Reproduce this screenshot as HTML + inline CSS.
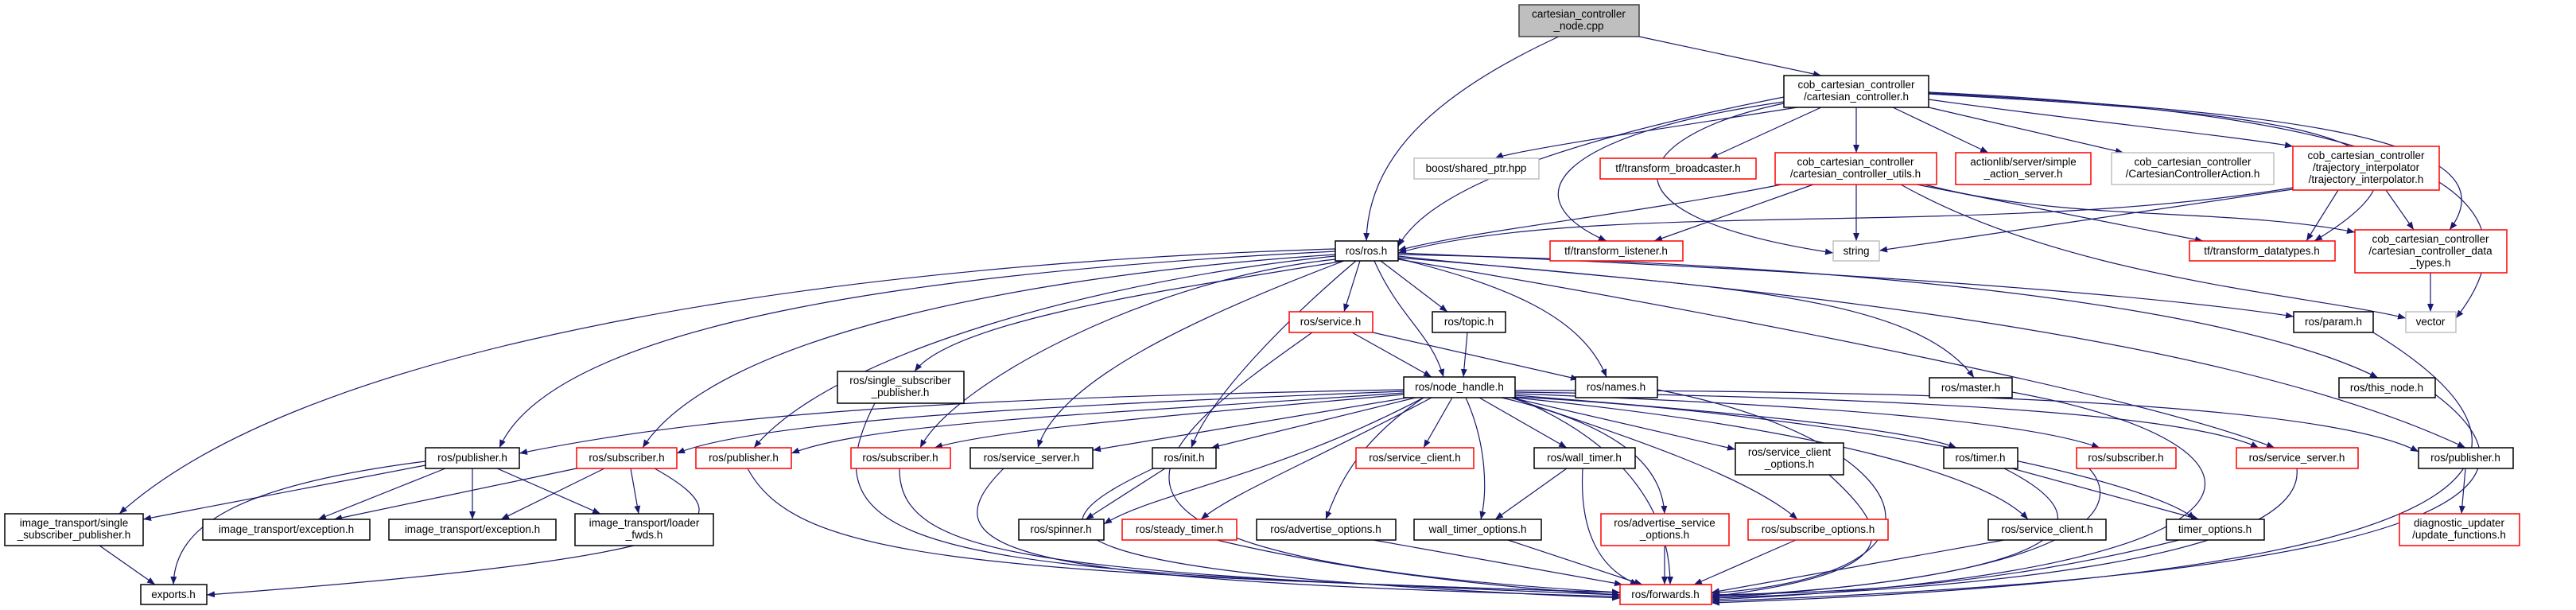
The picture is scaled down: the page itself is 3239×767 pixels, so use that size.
<!DOCTYPE html>
<html><head><meta charset="utf-8"><style>
html,body{margin:0;padding:0;background:#fff;}
svg{display:block;}
text{font-family:"Liberation Sans",sans-serif;font-size:13.5px;fill:#000;text-anchor:middle;}
.e path{fill:none;stroke:#191970;stroke-width:1.2;}
.n rect{fill:#fff;stroke:#000;stroke-width:1.5;}
.n rect.r{stroke:#f00;}
.n rect.g{stroke:#bfbfbf;}
</style></head><body>
<svg width="3239" height="767" viewBox="0 0 3239 767" xmlns="http://www.w3.org/2000/svg">
<defs><marker id="a" viewBox="0 0 10 10" refX="10" refY="5" markerWidth="10" markerHeight="10" markerUnits="userSpaceOnUse" orient="auto"><path d="M0,1 L10,5 L0,9 z" fill="#191970"/></marker></defs>
<g class="e" marker-end="url(#a)">
<path marker-end="url(#a)" d="M1960,46 C1800,120 1720,200 1718,303"/>
<path marker-end="url(#a)" d="M2061,46 L2290,95"/>
<path marker-end="url(#a)" d="M2243,122 C2000,170 1800,230 1758,310"/>
<path marker-end="url(#a)" d="M2260,135 C2100,160 1900,190 1880,199"/>
<path marker-end="url(#a)" d="M2290,135 L2150,199"/>
<path marker-end="url(#a)" d="M2243,128 C1950,170 1900,250 2020,303"/>
<path marker-end="url(#a)" d="M2334,135 L2334,192"/>
<path marker-end="url(#a)" d="M2380,135 L2500,192"/>
<path marker-end="url(#a)" d="M2425,135 L2670,192"/>
<path marker-end="url(#a)" d="M2425,125 C2600,150 2800,170 2883,184"/>
<path marker-end="url(#a)" d="M2243,130 C2050,170 1990,270 2305,318"/>
<path marker-end="url(#a)" d="M2425,118 C2800,140 3150,160 2910,303"/>
<path marker-end="url(#a)" d="M2425,117 C2850,140 3170,170 3080,289"/>
<path marker-end="url(#a)" d="M2425,116 C2950,140 3230,220 3088,400"/>
<path marker-end="url(#a)" d="M2240,232 C2050,270 1850,290 1758,315"/>
<path marker-end="url(#a)" d="M2280,232 L2080,303"/>
<path marker-end="url(#a)" d="M2334,232 L2334,303"/>
<path marker-end="url(#a)" d="M2410,232 L2770,303"/>
<path marker-end="url(#a)" d="M2420,232 C2600,280 2800,260 2961,292"/>
<path marker-end="url(#a)" d="M2390,232 C2600,350 2900,370 3025,400"/>
<path marker-end="url(#a)" d="M2883,236 C2500,300 2000,250 1758,318"/>
<path marker-end="url(#a)" d="M2883,238 L2363,315"/>
<path marker-end="url(#a)" d="M2940,239 L2900,303"/>
<path marker-end="url(#a)" d="M3000,239 L3035,289"/>
<path marker-end="url(#a)" d="M3056,343 L3056,392"/>
<path marker-end="url(#a)" d="M1710,328 L1690,392"/>
<path marker-end="url(#a)" d="M1736,328 L1820,392"/>
<path marker-end="url(#a)" d="M1728,328 C1760,400 1800,420 1815,474"/>
<path marker-end="url(#a)" d="M1758,325 C1900,360 1990,400 2020,474"/>
<path marker-end="url(#a)" d="M1690,328 C1500,360 1200,400 1150,467"/>
<path marker-end="url(#a)" d="M1679,326 C1450,350 1200,480 1157,563"/>
<path marker-end="url(#a)" d="M1690,328 C1500,400 1330,480 1305,563"/>
<path marker-end="url(#a)" d="M1705,328 C1620,400 1520,500 1498,563"/>
<path marker-end="url(#a)" d="M1679,316 C1200,340 700,400 628,563"/>
<path marker-end="url(#a)" d="M1679,320 C1300,345 900,420 808,563"/>
<path marker-end="url(#a)" d="M1679,322 C1400,350 1050,440 948,563"/>
<path marker-end="url(#a)" d="M1679,313 C1100,330 400,420 150,646"/>
<path marker-end="url(#a)" d="M1758,322 C2100,360 2400,360 2482,475"/>
<path marker-end="url(#a)" d="M1758,318 C2300,340 2700,370 2884,398"/>
<path marker-end="url(#a)" d="M1758,320 C2300,330 2800,380 2990,475"/>
<path marker-end="url(#a)" d="M1758,324 C2200,360 2800,420 3100,563"/>
<path marker-end="url(#a)" d="M1758,326 C2200,400 2700,500 2860,563"/>
<path marker-end="url(#a)" d="M1700,418 L1800,474"/>
<path marker-end="url(#a)" d="M1726,418 L1985,477"/>
<path marker-end="url(#a)" d="M1650,418 C1450,560 1250,700 2037,745"/>
<path marker-end="url(#a)" d="M1845,418 L1840,474"/>
<path marker-end="url(#a)" d="M1765,490 C1200,500 900,520 653,570"/>
<path marker-end="url(#a)" d="M1765,492 C1300,510 950,530 851,570"/>
<path marker-end="url(#a)" d="M1765,494 C1400,520 1100,530 995,570"/>
<path marker-end="url(#a)" d="M1765,496 C1500,520 1250,540 1175,563"/>
<path marker-end="url(#a)" d="M1770,500 L1374,566"/>
<path marker-end="url(#a)" d="M1780,500 L1523,563"/>
<path marker-end="url(#a)" d="M1790,500 C1600,600 1450,620 1388,659"/>
<path marker-end="url(#a)" d="M1800,500 C1650,580 1550,620 1510,653"/>
<path marker-end="url(#a)" d="M1790,500 C1700,560 1680,620 1667,653"/>
<path marker-end="url(#a)" d="M1826,500 L1790,563"/>
<path marker-end="url(#a)" d="M1860,500 L1970,563"/>
<path marker-end="url(#a)" d="M1843,500 C1870,560 1870,620 1862,653"/>
<path marker-end="url(#a)" d="M1888,500 C2060,540 2090,600 2093,646"/>
<path marker-end="url(#a)" d="M1900,500 L2182,565"/>
<path marker-end="url(#a)" d="M1900,500 C2050,550 2200,600 2260,653"/>
<path marker-end="url(#a)" d="M1905,497 C2200,520 2400,540 2460,563"/>
<path marker-end="url(#a)" d="M1905,495 C2300,510 2550,530 2640,563"/>
<path marker-end="url(#a)" d="M1905,493 C2400,500 2750,520 2840,563"/>
<path marker-end="url(#a)" d="M1905,491 C2600,490 2950,520 3041,568"/>
<path marker-end="url(#a)" d="M1905,499 C2300,520 2700,600 2760,653"/>
<path marker-end="url(#a)" d="M1905,500 C2300,540 2500,600 2550,653"/>
<path marker-end="url(#a)" d="M1905,500 C2050,560 2100,650 2100,735"/>
<path marker-end="url(#a)" d="M535,585 L180,653"/>
<path marker-end="url(#a)" d="M560,589 L400,653"/>
<path marker-end="url(#a)" d="M594,589 L594,653"/>
<path marker-end="url(#a)" d="M625,589 L755,646"/>
<path marker-end="url(#a)" d="M535,580 C300,610 220,660 218,735"/>
<path marker-end="url(#a)" d="M725,589 L420,653"/>
<path marker-end="url(#a)" d="M760,589 L630,653"/>
<path marker-end="url(#a)" d="M793,589 L803,646"/>
<path marker-end="url(#a)" d="M823,589 C950,660 900,700 260,748"/>
<path marker-end="url(#a)" d="M125,686 L195,735"/>
<path marker-end="url(#a)" d="M940,589 C1000,700 1200,720 2037,745"/>
<path marker-end="url(#a)" d="M1100,507 C1000,700 1200,720 2037,745"/>
<path marker-end="url(#a)" d="M1131,589 C1130,700 1300,720 2037,748"/>
<path marker-end="url(#a)" d="M1262,589 C1150,700 1300,730 2037,750"/>
<path marker-end="url(#a)" d="M1465,589 L1365,653"/>
<path marker-end="url(#a)" d="M1450,589 C1300,660 1250,720 2037,752"/>
<path marker-end="url(#a)" d="M1530,679 C1700,720 1900,740 2037,748"/>
<path marker-end="url(#a)" d="M1727,679 L2040,735"/>
<path marker-end="url(#a)" d="M1970,589 L1880,653"/>
<path marker-end="url(#a)" d="M1990,589 C1985,680 2020,720 2060,735"/>
<path marker-end="url(#a)" d="M1896,679 L2065,735"/>
<path marker-end="url(#a)" d="M2093,686 L2093,735"/>
<path marker-end="url(#a)" d="M2258,679 L2130,735"/>
<path marker-end="url(#a)" d="M2300,597 C2380,670 2400,720 2152,750"/>
<path marker-end="url(#a)" d="M2530,589 L2765,653"/>
<path marker-end="url(#a)" d="M2520,589 C2700,680 2500,730 2152,752"/>
<path marker-end="url(#a)" d="M2520,679 L2152,745"/>
<path marker-end="url(#a)" d="M2740,679 C2500,740 2300,745 2152,748"/>
<path marker-end="url(#a)" d="M2611,575 C2700,640 2600,730 2152,750"/>
<path marker-end="url(#a)" d="M2888,589 C2900,700 2500,740 2152,752"/>
<path marker-end="url(#a)" d="M3100,589 L3095,646"/>
<path marker-end="url(#a)" d="M2530,493 C2900,560 2900,720 2152,754"/>
<path marker-end="url(#a)" d="M3062,496 C3200,600 3150,720 2152,756"/>
<path marker-end="url(#a)" d="M2984,418 C3200,550 3250,720 2152,758"/>
<path marker-end="url(#a)" d="M2084,490 C2400,550 2500,720 2152,746"/>
</g>
<g class="n">
<rect x="1910" y="6" width="151" height="40" style="fill:#bfbfbf;stroke:#404040"/><text x="1985" y="22">cartesian_controller</text><text x="1985" y="37">_node.cpp</text>
<rect x="2243" y="95" width="182" height="40"/><text x="2334" y="111">cob_cartesian_controller</text><text x="2334" y="126">/cartesian_controller.h</text>
<rect x="1679" y="303" width="79" height="25"/><text x="1718" y="320">ros/ros.h</text>
<rect class="g" x="1778" y="199" width="157" height="26"/><text x="1856" y="216">boost/shared_ptr.hpp</text>
<rect class="r" x="2012" y="199" width="196" height="26"/><text x="2110" y="216">tf/transform_broadcaster.h</text>
<rect class="r" x="1949" y="303" width="167" height="25"/><text x="2032" y="320">tf/transform_listener.h</text>
<rect class="r" x="2232" y="192" width="203" height="40"/><text x="2333" y="208">cob_cartesian_controller</text><text x="2333" y="223">/cartesian_controller_utils.h</text>
<rect class="r" x="2459" y="192" width="170" height="40"/><text x="2544" y="208">actionlib/server/simple</text><text x="2544" y="223">_action_server.h</text>
<rect class="g" x="2655" y="192" width="204" height="40"/><text x="2757" y="208">cob_cartesian_controller</text><text x="2757" y="223">/CartesianControllerAction.h</text>
<rect class="r" x="2883" y="184" width="184" height="55"/><text x="2975" y="200">cob_cartesian_controller</text><text x="2975" y="215">/trajectory_interpolator</text><text x="2975" y="230">/trajectory_interpolator.h</text>
<rect class="g" x="2305" y="303" width="58" height="25"/><text x="2334" y="320">string</text>
<rect class="r" x="2753" y="303" width="183" height="25"/><text x="2844" y="320">tf/transform_datatypes.h</text>
<rect class="r" x="2961" y="289" width="191" height="54"/><text x="3056" y="305">cob_cartesian_controller</text><text x="3056" y="320">/cartesian_controller_data</text><text x="3056" y="335">_types.h</text>
<rect class="g" x="3025" y="392" width="63" height="26"/><text x="3056" y="409">vector</text>
<rect x="2884" y="392" width="100" height="26"/><text x="2934" y="409">ros/param.h</text>
<rect class="r" x="1621" y="392" width="105" height="26"/><text x="1673" y="409">ros/service.h</text>
<rect x="1801" y="392" width="92" height="26"/><text x="1847" y="409">ros/topic.h</text>
<rect x="1765" y="474" width="140" height="26"/><text x="1835" y="491">ros/node_handle.h</text>
<rect x="1981" y="474" width="103" height="26"/><text x="2032" y="491">ros/names.h</text>
<rect x="2426" y="475" width="104" height="25"/><text x="2478" y="492">ros/master.h</text>
<rect x="2941" y="475" width="121" height="25"/><text x="3001" y="492">ros/this_node.h</text>
<rect x="1053" y="467" width="159" height="40"/><text x="1132" y="483">ros/single_subscriber</text><text x="1132" y="498">_publisher.h</text>
<rect x="535" y="563" width="118" height="26"/><text x="594" y="580">ros/publisher.h</text>
<rect class="r" x="725" y="563" width="126" height="26"/><text x="788" y="580">ros/subscriber.h</text>
<rect class="r" x="875" y="563" width="120" height="26"/><text x="935" y="580">ros/publisher.h</text>
<rect class="r" x="1070" y="563" width="125" height="26"/><text x="1132" y="580">ros/subscriber.h</text>
<rect x="1220" y="563" width="154" height="26"/><text x="1297" y="580">ros/service_server.h</text>
<rect x="1449" y="563" width="80" height="26"/><text x="1489" y="580">ros/init.h</text>
<rect class="r" x="1705" y="563" width="148" height="26"/><text x="1779" y="580">ros/service_client.h</text>
<rect x="1929" y="563" width="127" height="26"/><text x="1992" y="580">ros/wall_timer.h</text>
<rect x="2182" y="557" width="136" height="40"/><text x="2250" y="573">ros/service_client</text><text x="2250" y="588">_options.h</text>
<rect x="2444" y="563" width="93" height="26"/><text x="2490" y="580">ros/timer.h</text>
<rect class="r" x="2611" y="563" width="125" height="26"/><text x="2673" y="580">ros/subscriber.h</text>
<rect class="r" x="2812" y="563" width="153" height="26"/><text x="2888" y="580">ros/service_server.h</text>
<rect x="3041" y="563" width="119" height="26"/><text x="3100" y="580">ros/publisher.h</text>
<rect x="6" y="646" width="174" height="40"/><text x="93" y="662">image_transport/single</text><text x="93" y="677">_subscriber_publisher.h</text>
<rect x="255" y="653" width="210" height="26"/><text x="360" y="670">image_transport/exception.h</text>
<rect x="489" y="653" width="210" height="26"/><text x="594" y="670">image_transport/exception.h</text>
<rect x="723" y="646" width="174" height="40"/><text x="810" y="662">image_transport/loader</text><text x="810" y="677">_fwds.h</text>
<rect x="1281" y="653" width="107" height="26"/><text x="1334" y="670">ros/spinner.h</text>
<rect class="r" x="1411" y="653" width="144" height="26"/><text x="1483" y="670">ros/steady_timer.h</text>
<rect x="1580" y="653" width="175" height="26"/><text x="1667" y="670">ros/advertise_options.h</text>
<rect x="1778" y="653" width="160" height="26"/><text x="1858" y="670">wall_timer_options.h</text>
<rect class="r" x="2013" y="646" width="161" height="40"/><text x="2093" y="662">ros/advertise_service</text><text x="2093" y="677">_options.h</text>
<rect class="r" x="2198" y="653" width="176" height="26"/><text x="2286" y="670">ros/subscribe_options.h</text>
<rect x="2500" y="653" width="148" height="26"/><text x="2574" y="670">ros/service_client.h</text>
<rect x="2724" y="653" width="123" height="26"/><text x="2785" y="670">timer_options.h</text>
<rect class="r" x="3017" y="646" width="151" height="40"/><text x="3092" y="662">diagnostic_updater</text><text x="3092" y="677">/update_functions.h</text>
<rect class="r" x="2037" y="735" width="115" height="25"/><text x="2094" y="752">ros/forwards.h</text>
<rect x="177" y="735" width="83" height="25"/><text x="218" y="752">exports.h</text>
</g>
</svg>
</body></html>
